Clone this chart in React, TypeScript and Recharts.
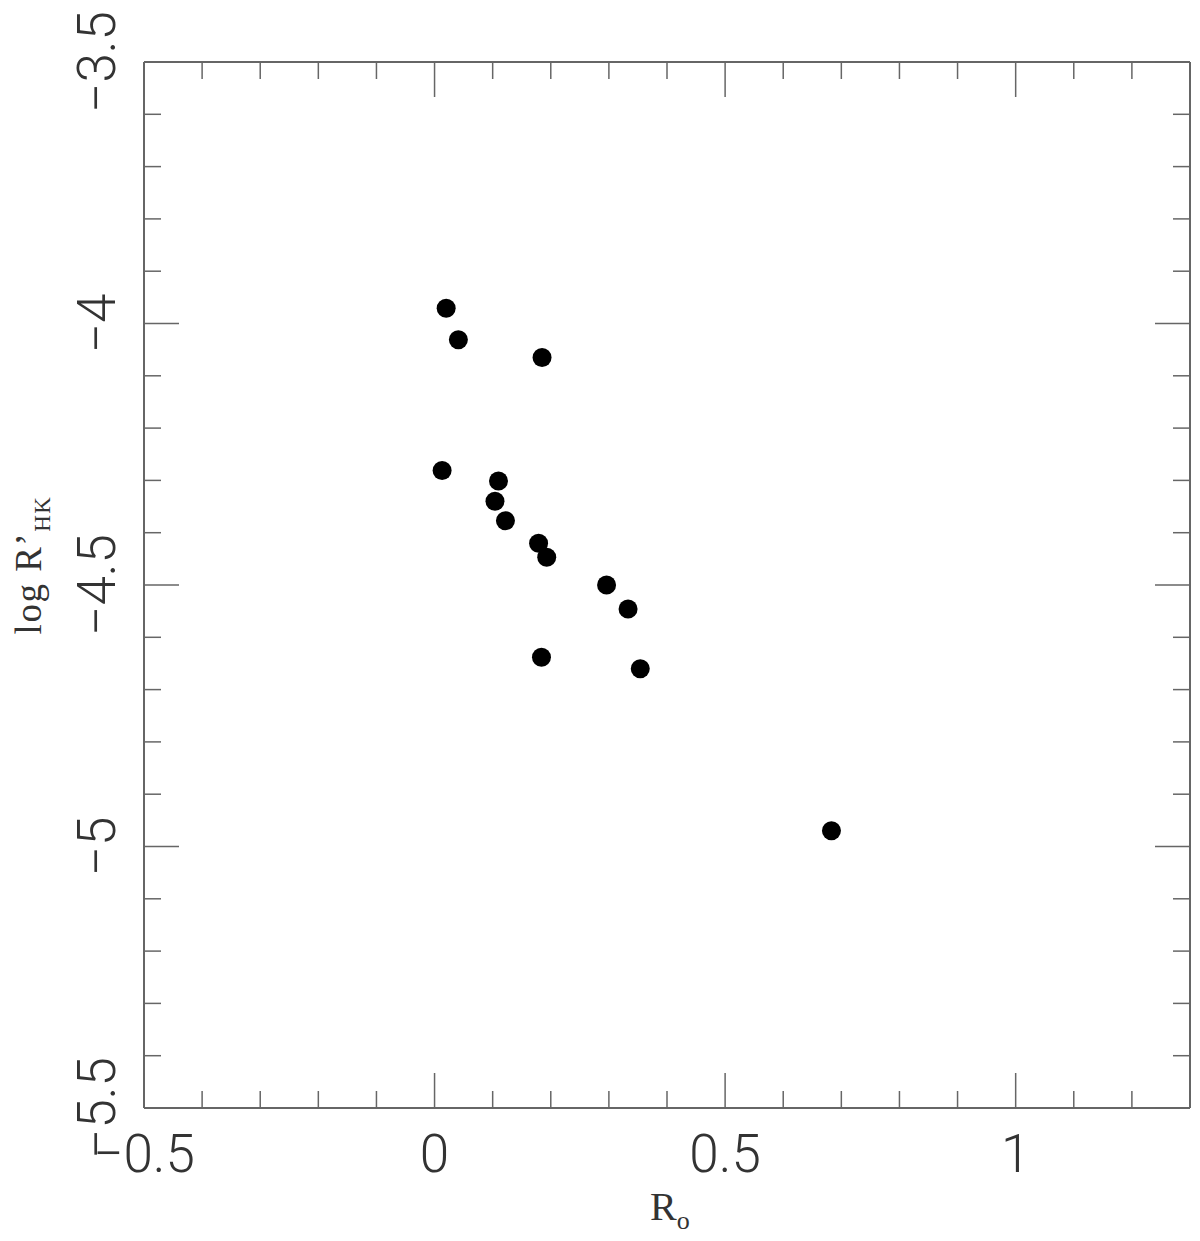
import React from 'react';
import { ScatterChart, Scatter, XAxis, YAxis } from 'recharts';

// Rossby number vs. chromospheric activity
const rossby = [0.020, 0.041, 0.185, 0.013, 0.110, 0.104, 0.122, 0.179, 0.193, 0.296, 0.333, 0.184, 0.354, 0.683];
const logRhk = [-3.971, -4.031, -4.065, -4.281, -4.301, -4.340, -4.377, -4.420, -4.447, -4.500, -4.546, -4.638, -4.660, -4.970];

const xTicks = [-0.5, -0.4, -0.3, -0.2, -0.1, 0, 0.1, 0.2, 0.3, 0.4, 0.5, 0.6, 0.7, 0.8, 0.9, 1, 1.1, 1.2, 1.3];
const yTicks = [-5.5, -5.4, -5.3, -5.2, -5.1, -5, -4.9, -4.8, -4.7, -4.6, -4.5, -4.4, -4.3, -4.2, -4.1, -4, -3.9, -3.8, -3.7, -3.6, -3.5];
const xLabels = ['−0.5', '0', '0.5', '1'];
const yLabels = ['−5.5', '−5', '−4.5', '−4', '−3.5'];

const points = rossby.map((r, i) => ({ ro: r, rhk: logRhk[i] }));

const AXIS = '#666';
const TICK_FONT = 'Roboto, "DejaVu Sans", sans-serif';
const SERIF = '"Liberation Serif", "DejaVu Serif", serif';

const isMajor = (v: number) => Math.abs(v * 2 - Math.round(v * 2)) < 1e-6;
const labelFor = (v: number, list: string[]) =>
  list.find(s => Math.abs(parseFloat(s.replace('−', '-')) - v) < 1e-6) ?? '';

// x ticks: dir = -1 for bottom axis (ticks go up), +1 for top axis
const makeXTick = (dir: number, withLabel: boolean) => (props: any) => {
  const { x, y, payload } = props;
  const v = payload.value;
  const len = isMajor(v) ? 35 : 17;
  return (
    <g>
      <line x1={x} y1={y} x2={x} y2={y + dir * len} stroke={AXIS} strokeWidth={1.5} />
      {withLabel && isMajor(v) && (
        <text x={x} y={y + 64} textAnchor="middle" fontSize={53} fontFamily={TICK_FONT} fontWeight={300} fill="#333">
          {labelFor(v, xLabels)}
        </text>
      )}
    </g>
  );
};

const makeYTick = (dir: number, withLabel: boolean) => (props: any) => {
  const { x, y, payload } = props;
  const v = payload.value;
  const len = isMajor(v) ? 35 : 17;
  return (
    <g>
      <line x1={x} y1={y} x2={x + dir * len} y2={y} stroke={AXIS} strokeWidth={1.5} />
      {withLabel && isMajor(v) && (
        <text
          x={x - 29}
          y={y}
          transform={`rotate(-90 ${x - 29} ${y})`}
          textAnchor="middle"
          fontSize={53}
          fontFamily={TICK_FONT}
          fontWeight={300}
          fill="#333"
        >
          {labelFor(v, yLabels)}
        </text>
      )}
    </g>
  );
};

const Dot = (props: any) => <circle cx={props.cx} cy={props.cy} r={9.5} fill="#000" />;
const NoDot = () => <g />;

export default function App() {
  return (
    <div style={{ position: 'relative', width: 1192, height: 1233 }}>
      <ScatterChart width={1192} height={1233} margin={{ top: 53, right: 9, bottom: 0, left: 0 }}>
        <XAxis
          xAxisId="b"
          type="number"
          dataKey="ro"
          domain={[-0.5, 1.3]}
          ticks={xTicks}
          interval={0}
          height={133}
          tickSize={0}
          tickMargin={0}
          tickLine={false}
          axisLine={{ stroke: AXIS, strokeWidth: 2 }}
          tick={makeXTick(-1, true)}
        />
        <XAxis
          xAxisId="t"
          orientation="top"
          type="number"
          dataKey="ro"
          domain={[-0.5, 1.3]}
          ticks={xTicks}
          interval={0}
          height={1}
          tickSize={0}
          tickMargin={0}
          tickLine={false}
          axisLine={{ stroke: AXIS, strokeWidth: 2 }}
          tick={makeXTick(1, false)}
        />
        <YAxis
          yAxisId="l"
          type="number"
          dataKey="rhk"
          domain={[-5.5, -3.5]}
          ticks={yTicks}
          interval={0}
          width={136}
          tickSize={0}
          tickMargin={0}
          tickLine={false}
          axisLine={{ stroke: AXIS, strokeWidth: 2 }}
          tick={makeYTick(1, true)}
        />
        <YAxis
          yAxisId="r"
          orientation="right"
          type="number"
          dataKey="rhk"
          domain={[-5.5, -3.5]}
          ticks={yTicks}
          interval={0}
          width={1}
          tickSize={0}
          tickMargin={0}
          tickLine={false}
          axisLine={{ stroke: AXIS, strokeWidth: 2 }}
          tick={makeYTick(-1, false)}
        />
        <Scatter data={points} xAxisId="t" yAxisId="r" shape={NoDot} isAnimationActive={false} />
        <Scatter data={points} xAxisId="b" yAxisId="l" shape={Dot} isAnimationActive={false} />
      </ScatterChart>
      <svg width={1192} height={1233} style={{ position: 'absolute', left: 0, top: 0, pointerEvents: 'none' }}>
        <text
          x={33}
          y={557}
          transform="rotate(-90 33 557)"
          textAnchor="middle"
          fontFamily={SERIF}
          fontSize={37}
          letterSpacing={1.5}
          fill="#333"
        >
          log R’<tspan fontSize={23} dy={9}>HK</tspan>
        </text>
        <text x={642} y={1212} fontFamily={SERIF} fontSize={40} fill="#333">
          R<tspan fontSize={26} dy={9}>o</tspan>
        </text>
      </svg>
    </div>
  );
}
